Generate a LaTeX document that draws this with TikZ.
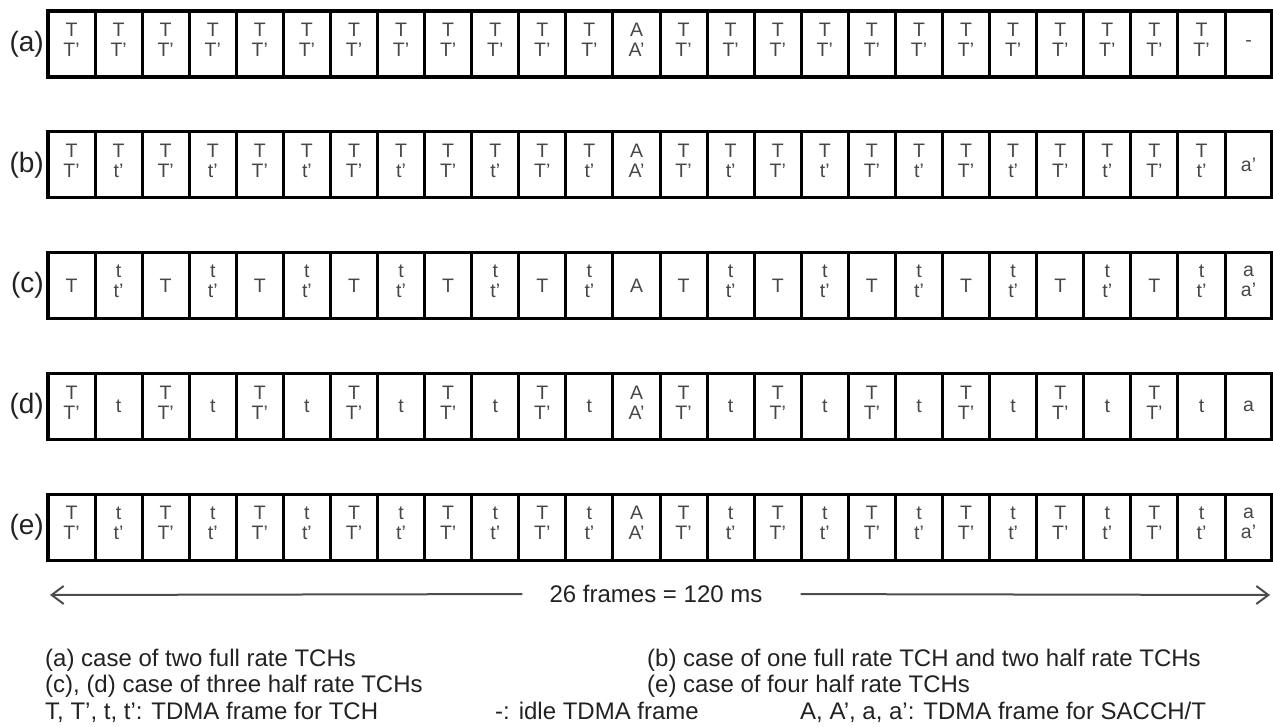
\documentclass[tikz,border=0pt]{standalone}
\usepackage{fontspec}
\setmainfont{Liberation Sans}
\usetikzlibrary{positioning, arrows.meta}
\definecolor{slotgray}{HTML}{474747}
\definecolor{notegray}{HTML}{222222}
\tikzset{
    slot/.style={rectangle, draw=black, line width=3pt, outer sep=0pt, inner sep=0pt, minimum width=47.08pt, minimum height=66pt, anchor=north west, align=center, text=slotgray, font=\fontsize{19.5}{20}\selectfont},
    caselabel/.style={inner sep=0pt, text=notegray, font=\fontsize{28}{30}\selectfont},
    note/.style={anchor=base west, inner sep=0pt, text=notegray, font=\fontsize{24}{27}\selectfont},
    spanline/.style={draw=gray!60!black, line width=2pt, -{Straight Barb[length=12pt,width=18pt]}}
}
% two channels in one slot, set a little above the middle
\newcommand{\pair}[2]{#1\\#2\rule[-8pt]{0pt}{0pt}}
% one row of 26 TDMA frames: name, top, even slot, odd slot, slot 12, slot 25
\newcommand{\framerow}[6]{
    \foreach \i in {0,...,25} {
        \pgfmathtruncatemacro{\k}{\i<12 ? mod(\i,2) : (\i==12 ? 2 : (\i==25 ? 3 : mod(\i-13,2)))}
        \ifcase\k \def\txt{#3}\or \def\txt{#4}\or \def\txt{#5}\or \def\txt{#6}\fi
        \node[slot] (#1\i) at ({48+47.08*\i}, #2) {\txt};
    }
    \draw[line width=3.4pt] (#10.north west) rectangle (#125.south east);
    \node[caselabel, left=4pt of #10] (l#1) {(#1)};
}

\begin{document}
\begin{tikzpicture}[x=1pt, y=-1pt]
    \useasboundingbox (0,0) rectangle (1273,727);

    \framerow{a}{11}{\pair{T}{T'}}{\pair{T}{T'}}{\pair{A}{A'}}{-}
    \framerow{b}{131.8}{\pair{T}{T'}}{\pair{T}{t'}}{\pair{A}{A'}}{a'}
    \framerow{c}{252.6}{T}{\pair{t}{t'}}{A}{\pair{a}{a'}}
    \framerow{d}{373.4}{\pair{T}{T'}}{t}{\pair{A}{A'}}{a}
    \framerow{e}{494.2}{\pair{T}{T'}}{\pair{t}{t'}}{\pair{A}{A'}}{\pair{a}{a'}}

    % span of the multiframe
    \coordinate (tipL) at (50,595);
    \coordinate (tipR) at (1270,595);
    \node[inner sep=0pt, text=notegray, font=\fontsize{24}{27}\selectfont] (span) at (656,594) {26 frames = 120 ms};
    \draw[spanline, shorten <=27pt] (span.west) -- (tipL);
    \draw[spanline, shorten <=38pt] (span.east) -- (tipR);

    % legend
    \node[note] (na) at (45,666) {(a) case of two full rate TCHs};
    \node[note] (nb) at (647,666) {(b) case of one full rate TCH and two half rate TCHs};
    \node[note] (ncd) at (45,692.5) {(c), (d) case of three half rate TCHs};
    \node[note] (ne) at (647,692.5) {(e) case of four half rate TCHs};
    \node[note] (ntch) at (45,719) {T, T', t, t': TDMA frame for TCH};
    \node[note] (nidle) at (495,719) {-: idle TDMA frame};
    \node[note] (nsacch) at (800,719) {A, A', a, a': TDMA frame for SACCH/T};
\end{tikzpicture}
\end{document}
